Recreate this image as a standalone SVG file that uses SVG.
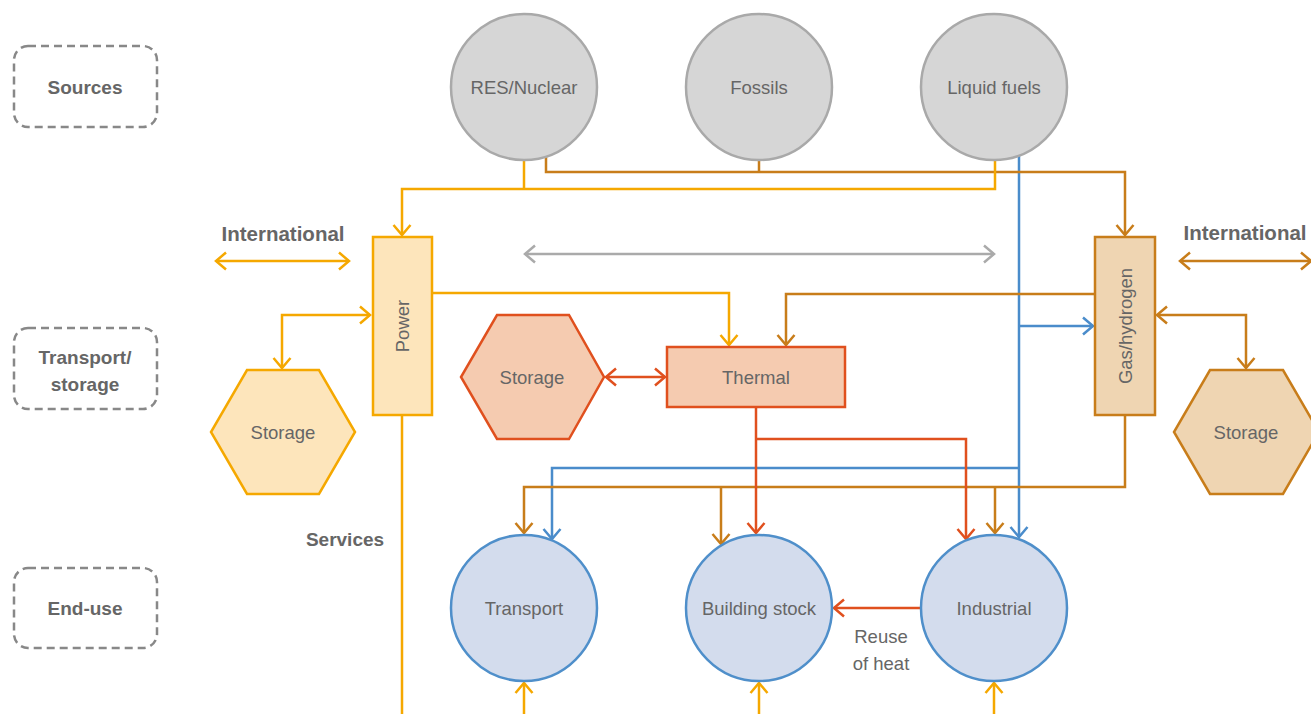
<svg xmlns="http://www.w3.org/2000/svg" width="1311" height="714" viewBox="0 0 1311 714">
<style>
.t{font-family:"Liberation Sans",Arial,sans-serif;font-size:18.5px;fill:#666;text-anchor:middle;dominant-baseline:central}
.b{font-family:"Liberation Sans",Arial,sans-serif;font-size:19px;font-weight:bold;fill:#666;text-anchor:middle;dominant-baseline:central}
.intl{font-size:20.5px}
.lane{fill:none;stroke:#888;stroke-width:2.5;stroke-dasharray:8 5}
.src{fill:#d6d6d6;stroke:#a9a9a9;stroke-width:2.5}
.end{fill:#d3dced;stroke:#4f8fca;stroke-width:2.5}
.ln{fill:none;stroke-width:2.5;stroke-linejoin:miter}
.y{stroke:#f5a800}.br{stroke:#c87d1a}.bl{stroke:#4a8ccb}.r{stroke:#e0501e}.g{stroke:#aaaaaa}
</style>
<defs>
<marker id="my" markerUnits="userSpaceOnUse" viewBox="-12 -12 24 24" markerWidth="24" markerHeight="24" refX="0" refY="0" orient="auto-start-reverse" overflow="visible"><path d="M-10,-8.5 L0,0 L-10,8.5" fill="none" stroke="#f5a800" stroke-width="2.5"/></marker>
<marker id="mbr" markerUnits="userSpaceOnUse" viewBox="-12 -12 24 24" markerWidth="24" markerHeight="24" refX="0" refY="0" orient="auto-start-reverse" overflow="visible"><path d="M-10,-8.5 L0,0 L-10,8.5" fill="none" stroke="#c87d1a" stroke-width="2.5"/></marker>
<marker id="mbl" markerUnits="userSpaceOnUse" viewBox="-12 -12 24 24" markerWidth="24" markerHeight="24" refX="0" refY="0" orient="auto-start-reverse" overflow="visible"><path d="M-10,-8.5 L0,0 L-10,8.5" fill="none" stroke="#4a8ccb" stroke-width="2.5"/></marker>
<marker id="mr" markerUnits="userSpaceOnUse" viewBox="-12 -12 24 24" markerWidth="24" markerHeight="24" refX="0" refY="0" orient="auto-start-reverse" overflow="visible"><path d="M-10,-8.5 L0,0 L-10,8.5" fill="none" stroke="#e0501e" stroke-width="2.5"/></marker>
<marker id="mg" markerUnits="userSpaceOnUse" viewBox="-12 -12 24 24" markerWidth="24" markerHeight="24" refX="0" refY="0" orient="auto-start-reverse" overflow="visible"><path d="M-10,-8.5 L0,0 L-10,8.5" fill="none" stroke="#aaaaaa" stroke-width="2.5"/></marker>
</defs>
<rect width="1311" height="714" fill="#fff"/>

<g id="lanes">
<g id="lane-sources"><rect class="lane" x="14" y="46" width="143" height="81" rx="14"/><text class="b" x="85" y="87">Sources</text></g>
<g id="lane-transport"><rect class="lane" x="14" y="328" width="143" height="81" rx="14"/><text class="b" x="85" y="357">Transport/</text><text class="b" x="85" y="384">storage</text></g>
<g id="lane-enduse"><rect class="lane" x="14" y="568" width="143" height="80" rx="14"/><text class="b" x="85" y="608">End-use</text></g>
</g>

<g id="connectors">
<!-- blue -->
<path class="ln bl" d="M1019,156 V537" marker-end="url(#mbl)"/>
<path class="ln bl" d="M1019,326 H1093" marker-end="url(#mbl)"/>
<path class="ln bl" d="M1019,468 H552 V539" marker-end="url(#mbl)"/>
<!-- brown -->
<path class="ln br" d="M546,157 V172 H1125 V235" marker-end="url(#mbr)"/>
<path class="ln br" d="M759,160 V172"/>
<path class="ln br" d="M1095,294 H786 V345" marker-end="url(#mbr)"/>
<path class="ln br" d="M1157,315 H1246 V368" marker-start="url(#mbr)" marker-end="url(#mbr)"/>
<path class="ln br" d="M1180,261 H1311" marker-start="url(#mbr)" marker-end="url(#mbr)"/>
<path class="ln br" d="M1125,415 V487 H524 V533" marker-end="url(#mbr)"/>
<path class="ln br" d="M721,487 V544" marker-end="url(#mbr)"/>
<path class="ln br" d="M995,487 V533" marker-end="url(#mbr)"/>
<!-- red -->
<path class="ln r" d="M606,377 H665" marker-start="url(#mr)" marker-end="url(#mr)"/>
<path class="ln r" d="M756,407 V533" marker-end="url(#mr)"/>
<path class="ln r" d="M756,439 H966 V539" marker-end="url(#mr)"/>
<path class="ln r" d="M921,608 H834" marker-end="url(#mr)"/>
<!-- yellow -->
<path class="ln y" d="M524,160 V189"/>
<path class="ln y" d="M995,160 V189 H402 V235" marker-end="url(#my)"/>
<path class="ln y" d="M432,293 H729 V345" marker-end="url(#my)"/>
<path class="ln y" d="M216,261 H349" marker-start="url(#my)" marker-end="url(#my)"/>
<path class="ln y" d="M370,315 H282 V368" marker-start="url(#my)" marker-end="url(#my)"/>
<path class="ln y" d="M402,415 V714"/>
<path class="ln y" d="M524,714 V683" marker-end="url(#my)"/>
<path class="ln y" d="M759,714 V683" marker-end="url(#my)"/>
<path class="ln y" d="M994,714 V683" marker-end="url(#my)"/>
<!-- gray -->
<path class="ln g" d="M525,254 H994" marker-start="url(#mg)" marker-end="url(#mg)"/>
</g>

<g id="labels">
<text class="b intl" x="283" y="233">International</text>
<text class="b intl" x="1245" y="232">International</text>
<text class="b" x="345" y="539">Services</text>
<text class="t" x="881" y="636">Reuse</text>
<text class="t" x="881" y="663">of heat</text>
</g>

<g id="res"><circle class="src" cx="524" cy="87" r="73"/><text class="t" x="524" y="87">RES/Nuclear</text></g>
<g id="fossils"><circle class="src" cx="759" cy="87" r="73"/><text class="t" x="759" y="87">Fossils</text></g>
<g id="liquid"><circle class="src" cx="994" cy="87" r="73"/><text class="t" x="994" y="87">Liquid fuels</text></g>

<g id="power"><rect x="373" y="237" width="59" height="178" fill="#fde5bb" stroke="#f5a800" stroke-width="2.5"/><text class="t" transform="translate(402,326) rotate(-90)">Power</text></g>
<g id="gas"><rect x="1095" y="237" width="60" height="178" fill="#efd5b2" stroke="#c87d1a" stroke-width="2.5"/><text class="t" transform="translate(1125,326) rotate(-90)">Gas/hydrogen</text></g>
<g id="thermal"><rect x="667" y="347" width="178" height="60" fill="#f5cbb0" stroke="#e0501e" stroke-width="2.5"/><text class="t" x="756" y="377">Thermal</text></g>

<g id="storage-left"><polygon points="247,370 319,370 355,432 319,494 247,494 211,432" fill="#fde5bb" stroke="#f5a800" stroke-width="2.5"/><text class="t" x="283" y="432">Storage</text></g>
<g id="storage-mid"><polygon points="497,315 569,315 604,377 569,439 497,439 461,377" fill="#f5cbb0" stroke="#e0501e" stroke-width="2.5"/><text class="t" x="532" y="377">Storage</text></g>
<g id="storage-right"><polygon points="1210,370 1283,370 1319,432 1283,494 1210,494 1174,432" fill="#efd5b2" stroke="#c87d1a" stroke-width="2.5"/><text class="t" x="1246" y="432">Storage</text></g>

<g id="transport"><circle class="end" cx="524" cy="608" r="73"/><text class="t" x="524" y="608">Transport</text></g>
<g id="building"><circle class="end" cx="759" cy="608" r="73"/><text class="t" x="759" y="608">Building stock</text></g>
<g id="industrial"><circle class="end" cx="994" cy="608" r="73"/><text class="t" x="994" y="608">Industrial</text></g>
</svg>
